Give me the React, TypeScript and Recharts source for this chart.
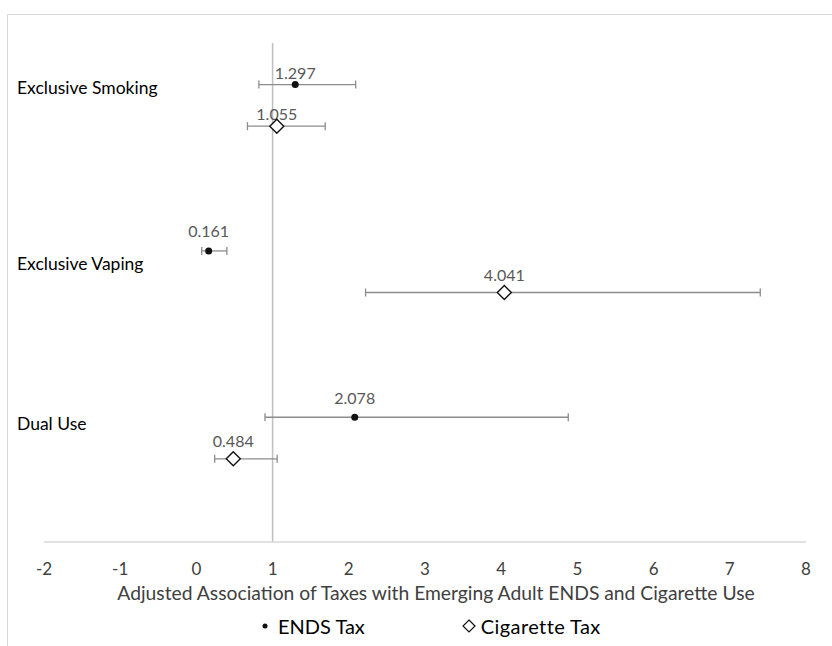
import React from 'react'
import {
  ScatterChart,
  Scatter,
  XAxis,
  YAxis,
  ErrorBar,
  ReferenceLine,
  Legend,
} from 'recharts'

const categories = ['Exclusive Smoking', 'Exclusive Vaping', 'Dual Use']
const categoryRow = [10.93, 6.7, 2.85]

const endsTax = [1.297, 0.161, 2.078]
const endsLow = [0.82, 0.07, 0.9]
const endsHigh = [2.09, 0.4, 4.88]
const endsRow = [11, 7, 3]

const cigTax = [1.055, 4.041, 0.484]
const cigLow = [0.67, 2.22, 0.24]
const cigHigh = [1.69, 7.4, 1.06]
const cigRow = [10, 6, 2]

const xTicks = [-2, -1, 0, 1, 2, 3, 4, 5, 6, 7, 8]

// how far each value label sits above its marker (px)
const endsLabelLift = [11, 20, 19]
const cigLabelLift = [12, 17, 17]

const FONT = 'Lato, "Open Sans", sans-serif'

const endsData = endsTax.map((v, i) => ({
  x: v,
  y: endsRow[i],
  err: [v - endsLow[i], endsHigh[i] - v],
  lift: endsLabelLift[i],
}))

const cigData = cigTax.map((v, i) => ({
  x: v,
  y: cigRow[i],
  err: [v - cigLow[i], cigHigh[i] - v],
  lift: cigLabelLift[i],
}))

const ValueText = ({ cx, cy, value, lift }: any) => (
  <text
    x={cx}
    y={cy - lift}
    dy="0.35em"
    textAnchor="middle"
    fill="#595959"
    fontSize={16}
    fontFamily={FONT}
  >
    {Number(value).toFixed(3)}
  </text>
)

const Dot = (props: any) => (
  <g>
    <ValueText cx={props.cx} cy={props.cy} value={props.payload.x} lift={props.payload.lift} />
    <circle cx={props.cx} cy={props.cy} r={3.5} fill="#111" />
  </g>
)

const Diamond = (props: any) => {
  const { cx, cy } = props
  const h = 7
  return (
    <g>
      <ValueText cx={cx} cy={cy} value={props.payload.x} lift={props.payload.lift} />
      <polygon
        points={`${cx},${cy - h} ${cx + h},${cy} ${cx},${cy + h} ${cx - h},${cy}`}
        fill="#fff"
        stroke="#111"
        strokeWidth={1.4}
      />
    </g>
  )
}

const CategoryTick = (props: any) => {
  const idx = categoryRow.indexOf(props.payload.value)
  return (
    <text x={17} y={props.y} dy="0.35em" textAnchor="start" fill="#000" fontSize={17.5} fontFamily={FONT}>
      {categories[idx]}
    </text>
  )
}

const LegendContent = () => (
  <div
    style={{
      display: 'flex',
      alignItems: 'center',
      paddingLeft: 260,
      paddingTop: 12,
      fontFamily: FONT,
      fontSize: 20,
      lineHeight: '24px',
      color: '#000',
    }}
  >
    <svg width={18} height={14}>
      <circle cx={5} cy={7} r={2.5} fill="#111" />
    </svg>
    <span>ENDS Tax</span>
    <svg width={22} height={14} style={{ marginLeft: 94 }}>
      <polygon points="10,1 16,7 10,13 4,7" fill="#fff" stroke="#111" strokeWidth={1.2} />
    </svg>
    <span style={{ letterSpacing: 0.4 }}>Cigarette Tax</span>
  </div>
)

export default function App() {
  return (
    <div style={{ position: 'absolute', left: 0, top: 0, width: 832, height: 646, background: '#fff', fontFamily: FONT }}>
      <div
        style={{
          position: 'absolute',
          left: 7,
          top: 14,
          right: 0,
          bottom: 0,
          borderTop: '1.5px solid #d9d9d9',
          borderLeft: '1.5px solid #d9d9d9',
        }}
      />
      <ScatterChart
        width={832}
        height={646}
        margin={{ top: 43, right: 26, bottom: 8, left: 0 }}
        style={{ position: 'absolute', left: 0, top: 0 }}
      >
        <XAxis
          type="number"
          dataKey="x"
          domain={[-2, 8]}
          ticks={xTicks}
          interval={0}
          allowDataOverflow
          height={60}
          axisLine={{ stroke: '#d9d9d9', strokeWidth: 1.5 }}
          tickLine={false}
          tickMargin={15}
          tick={{ fill: '#404040', fontSize: 17, fontFamily: FONT }}
          label={{
            value: 'Adjusted Association of Taxes with Emerging Adult ENDS and Cigarette Use',
            position: 'insideBottom',
            offset: 2,
            dx: 11,
            fill: '#404040',
            fontSize: 19.3,
            fontFamily: FONT,
          }}
        />
        <YAxis
          type="number"
          dataKey="y"
          domain={[0, 12]}
          ticks={categoryRow}
          width={44}
          axisLine={false}
          tickLine={false}
          tick={<CategoryTick />}
        />
        <ReferenceLine x={1} stroke="#bfbfbf" strokeWidth={1.5} ifOverflow="extendDomain" />
        <Legend verticalAlign="bottom" height={36} content={<LegendContent />} />
        <Scatter name="ENDS Tax" data={endsData} shape={<Dot />} isAnimationActive={false}>
          <ErrorBar dataKey="err" direction="x" width={4} stroke="#8c8c8c" strokeWidth={1.3} />
        </Scatter>
        <Scatter name="Cigarette Tax" data={cigData} shape={<Diamond />} isAnimationActive={false}>
          <ErrorBar dataKey="err" direction="x" width={4} stroke="#8c8c8c" strokeWidth={1.3} />
        </Scatter>
      </ScatterChart>
    </div>
  )
}
